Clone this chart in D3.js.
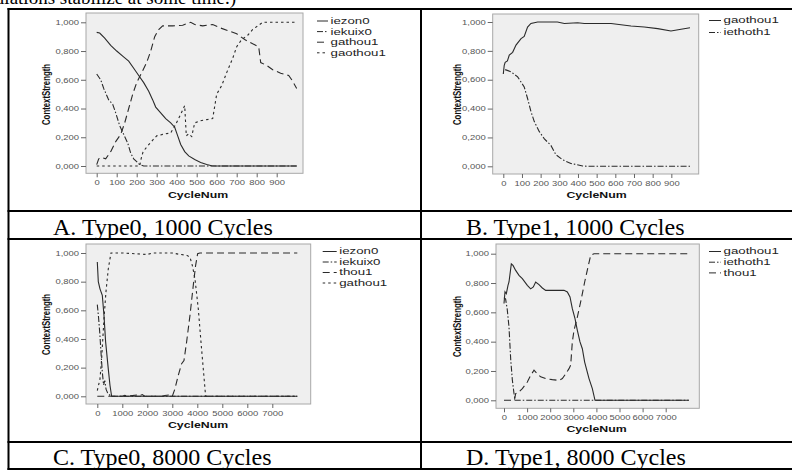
<!DOCTYPE html>
<html>
<head>
<meta charset="utf-8">
<script src="https://cdn.jsdelivr.net/npm/d3@7"></script>
<style>
  body { margin: 0; background: #fff; }
  svg { display: block; }
</style>
</head>
<body>
<div id="chart-container"></div>
<script>
// ---- data: [CycleNum, ContextStrength] ----
const namesA = ["iezon0", "iekuix0", "gathou1", "gaothou1"];
const aIezon0 = [[0,0.93],[15,0.925],[40,0.89],[70,0.84],[100,0.80],[130,0.765],[160,0.73],[185,0.68],[210,0.63],[235,0.58],[260,0.52],[280,0.46],[295,0.41],[320,0.37],[345,0.33],[370,0.30],[390,0.27],[405,0.21],[420,0.15],[440,0.10],[460,0.07],[490,0.045],[520,0.025],[550,0.01],[575,0.002],[600,0],[1000,0]];
const aIekuix0 = [[0,0.64],[20,0.60],[35,0.54],[60,0.46],[80,0.43],[95,0.37],[115,0.28],[135,0.22],[155,0.16],[170,0.09],[185,0.05],[200,0.03],[215,0.01],[235,0],[1000,0]];
const aGathou1 = [[0,0.01],[10,0.05],[25,0.06],[45,0.05],[70,0.10],[95,0.17],[120,0.22],[140,0.30],[160,0.40],[180,0.50],[200,0.58],[225,0.65],[250,0.72],[270,0.80],[290,0.90],[310,0.95],[330,0.975],[380,0.975],[430,0.98],[470,1.0],[490,0.985],[530,0.975],[580,0.985],[620,0.96],[660,0.94],[700,0.92],[740,0.88],[780,0.85],[810,0.83],[820,0.72],[850,0.70],[880,0.67],[920,0.645],[960,0.63],[975,0.60],[1000,0.54]];
const aGaothou1 = [[0,0],[215,0],[222,0.05],[232,0.10],[255,0.14],[280,0.18],[300,0.21],[330,0.22],[370,0.23],[395,0.29],[420,0.36],[440,0.42],[448,0.21],[460,0.225],[475,0.205],[490,0.30],[520,0.315],[580,0.33],[600,0.50],[625,0.56],[650,0.65],[680,0.75],[700,0.83],[725,0.88],[755,0.91],[780,0.95],[810,0.98],[830,1.0],[1000,1.0]];

const namesB = ["gaothou1", "iethoth1"];
const bGaothou1 = [[0,0.64],[5,0.70],[10,0.72],[22,0.73],[32,0.77],[50,0.79],[68,0.84],[95,0.885],[112,0.90],[130,0.965],[148,0.99],[184,1.0],[290,1.0],[327,0.99],[398,0.995],[434,0.99],[577,0.99],[684,0.972],[755,0.965],[827,0.954],[898,0.938],[952,0.95],[1000,0.96]];
const bIethoth1 = [[10,0.67],[41,0.655],[77,0.62],[112,0.55],[130,0.47],[148,0.38],[166,0.31],[193,0.24],[220,0.19],[255,0.145],[282,0.08],[318,0.045],[362,0.02],[425,0.002],[450,0],[1000,0]];

const namesC = ["iezon0", "iekuix0", "thou1", "gathou1"];
const cIezon0 = [[0,0.937],[40,0.80],[107,0.75],[200,0.705],[267,0.565],[333,0.38],[440,0.19],[507,0.077],[573,0],[8000,0]];
const cIekuix0 = [[0,0.64],[50,0.55],[100,0.44],[150,0.30],[200,0.17],[250,0.08],[300,0.11],[350,0.05],[420,0.02],[520,0.005],[600,0],[8000,0]];
const cThou1 = [[0,0],[1000,0],[1100,0.006],[1200,0],[1600,0.01],[1700,0.004],[1800,0.012],[1900,0],[2600,0],[2700,0.006],[2900,0.01],[3000,0],[3107,0.053],[3240,0.147],[3373,0.228],[3467,0.25],[3573,0.38],[3707,0.565],[3840,0.775],[3933,0.914],[4013,0.995],[4100,1.0],[8000,1.0]];
const cGathou1 = [[0,0.04],[107,0.12],[173,0.26],[267,0.54],[347,0.73],[440,0.89],[547,1.0],[1000,1.0],[1500,0.995],[2000,0.99],[2200,1.0],[3000,1.0],[3300,0.99],[3573,0.985],[3707,0.97],[3800,0.914],[3907,0.82],[4040,0.61],[4147,0.38],[4240,0.19],[4333,0],[8000,0]];

const namesD = ["gaothou1", "iethoth1", "thou1"];
const dGaothou1 = [[0,0.66],[43,0.74],[101,0.727],[173,0.784],[216,0.807],[317,0.93],[390,0.92],[505,0.886],[649,0.852],[794,0.83],[1010,0.784],[1154,0.76],[1270,0.773],[1371,0.807],[1515,0.789],[1660,0.766],[1804,0.75],[2165,0.75],[2597,0.75],[2742,0.739],[2857,0.705],[2958,0.625],[3074,0.557],[3175,0.477],[3290,0.398],[3391,0.352],[3492,0.261],[3680,0.148],[3824,0.08],[3939,0],[8000,0]];
const dIethoth1 = [[0,0.70],[70,0.69],[140,0.62],[216,0.50],[290,0.28],[360,0.14],[430,0.05],[480,0],[8000,0]];
const dThou1 = [[0,0],[450,0],[505,0.045],[649,0.057],[794,0.08],[1010,0.125],[1154,0.17],[1299,0.205],[1443,0.18],[1587,0.16],[1804,0.148],[2092,0.141],[2381,0.136],[2525,0.148],[2670,0.18],[2814,0.216],[2886,0.239],[2958,0.398],[3030,0.477],[3175,0.568],[3348,0.693],[3492,0.807],[3636,0.909],[3752,0.989],[3896,1.0],[8000,1.0]];

const yTicks = [0, 0.2, 0.4, 0.6, 0.8, 1];
const xTicks1000 = [0, 100, 200, 300, 400, 500, 600, 700, 800, 900];
const xTicks8000 = [0, 1000, 2000, 3000, 4000, 5000, 6000, 7000];
const captions = ["A. Type0, 1000 Cycles", "B. Type1, 1000 Cycles", "C. Type0, 8000 Cycles", "D. Type1, 8000 Cycles"];

// ---- layout ----
const W = 792, H = 470;
const sx = 1.35; // the SPSS pictures are stretched sideways in the page
const ink = "#2a2a2a";
const dash = { solid: null, dashdot: "6,2,1.5,2", longdash: "7,4", dotted: "2.5,3" };
const sans = "'Liberation Sans', Arial, sans-serif";
const serif = "'Liberation Serif', 'Times New Roman', serif";

const panels = [
  { frame: [86, 13, 303, 173.3], xr: [96.7, 296.7], yr: [166, 22.3], xmax: 1000, xticks: xTicks1000,
    series: [[aIezon0, "solid"], [aIekuix0, "dashdot"], [aGathou1, "longdash"], [aGaothou1, "dotted"]], names: namesA,
    legend: [317, 328, 21, 10.6], yTitle: [46.7, 94.5], xTitle: [198, 198], caption: [53, 234.5] },
  { frame: [492.7, 14, 698.7, 174], xr: [503.3, 690], yr: [166.3, 22], xmax: 1000, xticks: xTicks1000,
    series: [[bGaothou1, "solid"], [bIethoth1, "dashdot"]], names: namesB,
    legend: [709, 721, 20.5, 12], yTitle: [457.7, 94.5], xTitle: [596.5, 198], caption: [466, 234.5] },
  { frame: [86, 244, 310.7, 404], xr: [97.3, 297.3], yr: [396.3, 253], xmax: 8000, xticks: xTicks8000,
    series: [[cIezon0, "solid"], [cIekuix0, "dashdot"], [cThou1, "longdash"], [cGathou1, "dotted"]], names: namesC,
    legend: [322.7, 336.7, 251.5, 10.5], yTitle: [46.7, 324.5], xTitle: [198, 428], caption: [53, 465] },
  { frame: [496, 244, 699.3, 408.3], xr: [504, 688.8], yr: [400.3, 253.7], xmax: 8000, xticks: xTicks8000,
    series: [[dGaothou1, "solid"], [dIethoth1, "dashdot"], [dThou1, "longdash"]], names: namesD,
    legend: [709, 721, 251.5, 10.7], yTitle: [457.7, 326.5], xTitle: [596.5, 432], caption: [466, 465] }
];

const svg = d3.select("#chart-container").append("svg")
  .attr("width", W)
  .attr("height", H);

const fmt = d => d3.format(".3f")(d).replace(".", ",");

let drawPanel = (p) => {
  const g = svg.append("g");
  const f = p.frame;

  g.append("rect")
    .attr("x", f[0]).attr("y", f[1])
    .attr("width", f[2] - f[0]).attr("height", f[3] - f[1])
    .attr("fill", "#efefef")
    .attr("stroke", "#a8a8a8")
    .attr("stroke-width", 1);

  const x = d3.scaleLinear().domain([0, p.xmax]).range(p.xr);
  const y = d3.scaleLinear().domain([0, 1]).range(p.yr);

  // y axis
  const gy = g.append("g")
    .attr("transform", `translate(${f[0]},0)`)
    .call(d3.axisLeft(y).tickValues(yTicks).tickSize(5).tickPadding(2).tickFormat(fmt));
  gy.select(".domain").remove();
  gy.selectAll("line").attr("stroke", "#666");
  gy.selectAll("text")
    .attr("x", -7 / sx)
    .attr("transform", `scale(${sx},1)`)
    .attr("fill", "#555")
    .style("font", `7px ${sans}`);

  // x axis
  const gx = g.append("g")
    .attr("transform", `translate(0,${f[3]})`)
    .call(d3.axisBottom(x).tickValues(p.xticks).tickSize(4).tickPadding(3).tickFormat(d3.format("d")));
  gx.select(".domain").remove();
  gx.selectAll("line").attr("stroke", "#666");
  gx.selectAll("text")
    .attr("transform", `scale(${sx},1)`)
    .attr("fill", "#555")
    .style("font", `7px ${sans}`);

  // lines
  const line = d3.line().x(d => x(d[0])).y(d => y(d[1]));
  g.selectAll(".series")
    .data(p.series)
    .enter()
    .append("path")
    .attr("class", "series")
    .attr("d", d => line(d[0]))
    .attr("fill", "none")
    .attr("stroke", ink)
    .attr("stroke-width", 1.1)
    .attr("stroke-dasharray", d => dash[d[1]]);

  // axis titles
  g.append("text")
    .attr("transform", `translate(${p.yTitle[0]},${p.yTitle[1]}) scale(${sx},1) rotate(-90)`)
    .attr("text-anchor", "middle")
    .attr("dy", "0.35em")
    .style("font", `bold 7.8px ${sans}`)
    .attr("fill", "#111")
    .text("ContextStrength");

  g.append("text")
    .attr("transform", `translate(${p.xTitle[0]},${p.xTitle[1]}) scale(${sx + 0.1},1)`)
    .attr("text-anchor", "middle")
    .style("font", `bold 8.5px ${sans}`)
    .attr("fill", "#111")
    .text("CycleNum");

  // legend
  const lg = p.legend;
  const rows = g.selectAll(".leg")
    .data(p.names)
    .enter()
    .append("g")
    .attr("class", "leg")
    .attr("transform", (d, i) => `translate(0,${lg[2] + i * lg[3]})`);
  rows.append("line")
    .attr("x1", lg[0]).attr("x2", lg[1])
    .attr("stroke", ink)
    .attr("stroke-width", 1)
    .attr("stroke-dasharray", (d, i) => dash[p.series[i][1]]);
  rows.append("text")
    .attr("transform", `translate(${lg[1] + 2.5},0) scale(1.6,1)`)
    .attr("dy", "0.35em")
    .style("font", `8.3px ${sans}`)
    .attr("fill", "#222")
    .text(d => d);

  // caption
  svg.append("text")
    .attr("x", p.caption[0])
    .attr("y", p.caption[1])
    .style("font", `24px ${serif}`)
    .attr("fill", "#000")
    .text(p.cap);
};

panels.forEach((p, i) => { p.cap = captions[i]; drawPanel(p); });

// running text cut off at the top of the page
svg.append("text")
  .attr("x", 236)
  .attr("y", 3.5)
  .attr("text-anchor", "end")
  .style("font", `19px ${serif}`)
  .text("populations stabilize at some time.)");

// table rules
const tbl = svg.append("g").attr("stroke", "#000").attr("stroke-width", 2);
[9, 211, 239, 442, 469].forEach(yy => {
  tbl.append("line").attr("x1", 7.5).attr("x2", W).attr("y1", yy).attr("y2", yy);
});
[8.5, 421].forEach(xx => {
  tbl.append("line").attr("x1", xx).attr("x2", xx).attr("y1", 8).attr("y2", H);
});
</script>
</body>
</html>
